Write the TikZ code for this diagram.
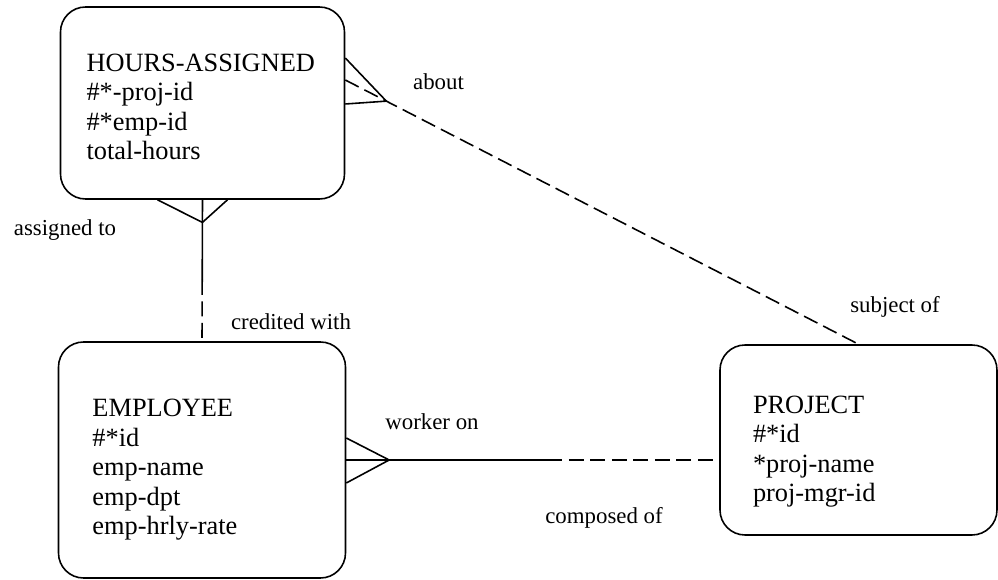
\documentclass[tikz,border=0pt]{standalone}
\usepackage{fontspec}
\setmainfont{Liberation Serif}
\begin{document}
\begin{tikzpicture}[line width=0.9pt,
  entity/.style={draw, rounded corners=0.5cm, align=left, inner ysep=0pt,
    font=\fontsize{15}{16.8}\selectfont},
  rel/.style={font=\fontsize{13}{15}\selectfont},
  longdash/.style={dash pattern=on 0.3cm off 0.13cm}]
  \useasboundingbox (0,0) rectangle (19.96,11.6);

  % Entities
  \node[entity, inner xsep=0.52cm, text width=4.64cm, minimum height=3.84cm] (hours) at (4.05,9.54)
    {\rule{0pt}{0.5cm}HOURS-ASSIGNED\\\#*-proj-id\\\#*emp-id\\total-hours};
  \node[entity, inner xsep=0.68cm, text width=4.38cm, minimum height=4.72cm] (employee) at (4.04,2.4)
    {\rule{0pt}{0.75cm}EMPLOYEE\\\#*id\\emp-name\\emp-dpt\\emp-hrly-rate};
  \node[entity, inner xsep=0.66cm, text width=4.22cm, minimum height=3.8cm] (project) at (17.17,2.8)
    {\rule{0pt}{0.82cm}PROJECT\\\#*id\\{*}proj-name\\proj-mgr-id};

  % HOURS-ASSIGNED to PROJECT
  \draw[longdash] ([yshift=4.6mm]hours.east) -- coordinate[pos=0.08] (abouttip) (project.north);
  \draw ([yshift=9mm]hours.east) -- (abouttip) -- ([yshift=-0.2mm]hours.east);

  % HOURS-ASSIGNED to EMPLOYEE
  \path (hours.south) -- coordinate[pos=0.16] (assigntip) coordinate[pos=0.566] (creditmid) (employee.north);
  \draw (hours.south) -- (creditmid);
  \draw[longdash] (creditmid) -- (employee.north);
  \draw ([xshift=-9mm]hours.south) -- (assigntip) -- ([xshift=5mm]hours.south);

  % EMPLOYEE to PROJECT
  \path (employee.east) -- coordinate[pos=0.115] (workertip) coordinate[pos=0.539] (composedmid)
    (employee.east -| project.west);
  \draw (employee.east) -- (composedmid);
  \draw[longdash] (composedmid) -- (employee.east -| project.west);
  \draw ([yshift=4.4mm]employee.east) -- (workertip) -- ([yshift=-4.6mm]employee.east);

  % Relationship names
  \node[rel] (about) at (8.77,9.96) {about};
  \node[rel] (assigned) at (1.3,7.0) {assigned to};
  \node[rel] (credited) at (5.82,5.16) {credited with};
  \node[rel] (worker) at (8.64,3.16) {worker on};
  \node[rel] (composed) at (12.08,1.24) {composed of};
  \node[rel] (subject) at (17.9,5.46) {subject of};
\end{tikzpicture}
\end{document}
